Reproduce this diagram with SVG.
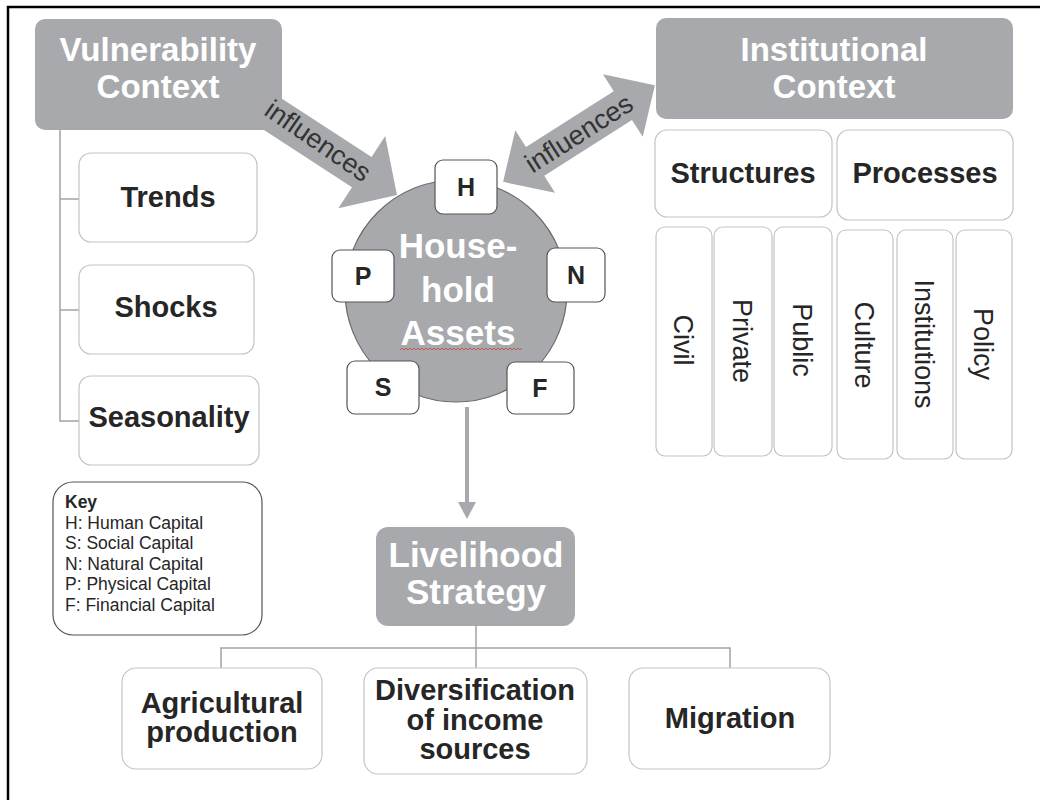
<svg xmlns="http://www.w3.org/2000/svg" width="1040" height="800" viewBox="0 0 1040 800">
<style>
  text { font-family: "Liberation Sans", Arial, sans-serif; }
  .hdr { fill: #a7a9ac; }
  .hdrtxt { fill: #ffffff; font-weight: bold; font-size: 35px; text-anchor: middle; }
  .ctxt { fill: #ffffff; font-weight: bold; font-size: 33px; text-anchor: middle; }
  .box { fill: #ffffff; stroke: #c4c4c4; stroke-width: 1.2; }
  .btxt { fill: #262626; font-weight: bold; font-size: 29px; text-anchor: middle; }
  .vtxt { fill: #262626; font-size: 27px; text-anchor: middle; }
  .lbox { fill: #ffffff; stroke: #555555; stroke-width: 1.2; }
  .ltxt { fill: #262626; font-weight: bold; font-size: 25px; text-anchor: middle; }
  .conn { stroke: #a3a3a3; stroke-width: 1.5; fill: none; }
  .big { fill: #a7a9ac; }
  .inf { fill: #333333; font-size: 27px; text-anchor: middle; dominant-baseline: central; }
  .key { fill: #262626; font-size: 17.5px; }
</style>

<polyline points="8,800 8,7 1040,7" fill="none" stroke="#000" stroke-width="2.5"/>

<g id="connectors">
  <polyline class="conn" points="60,130 60,421 79,421"/>
  <line class="conn" x1="60" y1="199" x2="79" y2="199"/>
  <line class="conn" x1="60" y1="310" x2="79" y2="310"/>
  <polyline class="conn" points="221,668 221,648 730,648 730,668"/>
  <line class="conn" x1="476" y1="626" x2="476" y2="668"/>
  <line x1="467" y1="407" x2="467" y2="504" stroke="#a7a9ac" stroke-width="4"/>
  <polygon points="458,502 476,502 467,519" fill="#a7a9ac"/>
</g>

<g id="vulnerability-context">
  <rect class="hdr" x="35" y="19" width="247" height="111" rx="10"/>
  <text class="ctxt" x="158" y="61">Vulnerability</text>
  <text class="ctxt" x="158" y="98">Context</text>
</g>

<g id="institutional-context">
  <rect class="hdr" x="656" y="18" width="357" height="101" rx="10"/>
  <text class="ctxt" x="834" y="61">Institutional</text>
  <text class="ctxt" x="834" y="98">Context</text>
</g>

<g id="arrow-vulnerability">
  <g transform="translate(397,195) rotate(33)">
    <polygon class="big" points="0,0 -42,-43 -42,-18 -180,-18 -180,18 -42,18 -42,43"/>
  </g>
  <text class="inf" transform="translate(318,141) rotate(34.5)">influences</text>
</g>

<g id="arrow-institutional">
  <g transform="translate(579,133.5) rotate(-32.5)">
    <polygon class="big" points="90,0 52,-37 52,-17 -52,-17 -52,-37 -90,0 -52,37 -52,17 52,17 52,37"/>
    <text class="inf" x="0" y="0">influences</text>
  </g>
</g>

<g id="trends">
  <rect class="box" x="79" y="153" width="178" height="89" rx="12"/>
  <text class="btxt" x="168" y="207">Trends</text>
</g>
<g id="shocks">
  <rect class="box" x="79" y="265" width="175" height="89" rx="12"/>
  <text class="btxt" x="166" y="317">Shocks</text>
</g>
<g id="seasonality">
  <rect class="box" x="79" y="376" width="180" height="89" rx="12"/>
  <text class="btxt" x="169" y="427">Seasonality</text>
</g>

<g id="key">
  <rect class="lbox" x="53" y="482" width="209" height="153" rx="20"/>
  <text class="key" x="65" y="508" font-weight="bold">Key</text>
  <text class="key" x="65" y="529">H: Human Capital</text>
  <text class="key" x="65" y="549">S: Social Capital</text>
  <text class="key" x="65" y="570">N: Natural Capital</text>
  <text class="key" x="65" y="590">P: Physical Capital</text>
  <text class="key" x="65" y="611">F: Financial Capital</text>
</g>

<g id="household-assets">
  <circle cx="456" cy="291" r="111" fill="#a7a9ac" stroke="#6b6b6b" stroke-width="1.2"/>
  <text class="hdrtxt" x="458" y="258">House-</text>
  <text class="hdrtxt" x="458" y="302">hold</text>
  <text class="hdrtxt" x="458" y="345">Assets</text>
  <path d="M400,350 l2,-2 l2,2 l2,-2 l2,2 l2,-2 l2,2 l2,-2 l2,2 l2,-2 l2,2 l2,-2 l2,2 l2,-2 l2,2 l2,-2 l2,2 l2,-2 l2,2 l2,-2 l2,2 l2,-2 l2,2 l2,-2 l2,2 l2,-2 l2,2 l2,-2 l2,2 l2,-2 l2,2 l2,-2 l2,2 l2,-2 l2,2 l2,-2 l2,2 l2,-2 l2,2 l2,-2 l2,2 l2,-2 l2,2 l2,-2 l2,2 l2,-2 l2,2 l2,-2 l2,2 l2,-2 l2,2 l2,-2 l2,2 l2,-2 l2,2 l2,-2 l2,2 l2,-2 l2,2 l2,-2 l2,2 l2,-2" fill="none" stroke="#d04040" stroke-width="0.8"/>
</g>

<g id="cap-H"><rect class="lbox" x="435" y="160" width="62" height="54" rx="8"/><text class="ltxt" x="466" y="196">H</text></g>
<g id="cap-P"><rect class="lbox" x="332" y="250" width="62" height="52" rx="8"/><text class="ltxt" x="363" y="285">P</text></g>
<g id="cap-N"><rect class="lbox" x="547" y="248" width="58" height="54" rx="8"/><text class="ltxt" x="576" y="284">N</text></g>
<g id="cap-S"><rect class="lbox" x="347" y="361" width="72" height="53" rx="8"/><text class="ltxt" x="383" y="396">S</text></g>
<g id="cap-F"><rect class="lbox" x="507" y="362" width="67" height="52" rx="8"/><text class="ltxt" x="540" y="397">F</text></g>

<g id="structures">
  <rect class="box" x="655" y="130" width="177" height="87" rx="12"/>
  <text class="btxt" x="743" y="183">Structures</text>
</g>
<g id="processes">
  <rect class="box" x="837" y="130" width="176" height="90" rx="12"/>
  <text class="btxt" x="925" y="183">Processes</text>
</g>

<g id="civil"><rect class="box" x="656" y="227" width="56" height="229" rx="9"/><text class="vtxt" transform="translate(684,340) rotate(90)" y="10">Civil</text></g>
<g id="private"><rect class="box" x="714" y="227" width="58" height="229" rx="9"/><text class="vtxt" transform="translate(743,341) rotate(90)" y="10">Private</text></g>
<g id="public"><rect class="box" x="774" y="227" width="58" height="229" rx="9"/><text class="vtxt" transform="translate(803,340) rotate(90)" y="10">Public</text></g>
<g id="culture"><rect class="box" x="837" y="230" width="56" height="229" rx="9"/><text class="vtxt" transform="translate(865,345) rotate(90)" y="10">Culture</text></g>
<g id="institutions"><rect class="box" x="897" y="230" width="56" height="229" rx="9"/><text class="vtxt" transform="translate(925,344) rotate(90)" y="10">Institutions</text></g>
<g id="policy"><rect class="box" x="956" y="230" width="56" height="229" rx="9"/><text class="vtxt" transform="translate(984,344) rotate(90)" y="10">Policy</text></g>

<g id="livelihood-strategy">
  <rect class="hdr" x="376" y="527" width="199" height="99" rx="12"/>
  <text class="hdrtxt" x="476" y="567">Livelihood</text>
  <text class="hdrtxt" x="476" y="604">Strategy</text>
</g>

<g id="agricultural-production">
  <rect class="box" x="122" y="668" width="200" height="101" rx="14"/>
  <text class="btxt" x="222" y="713">Agricultural</text>
  <text class="btxt" x="222" y="742">production</text>
</g>
<g id="diversification">
  <rect class="box" x="364" y="668" width="223" height="106" rx="14"/>
  <text class="btxt" x="475" y="700">Diversification</text>
  <text class="btxt" x="475" y="730">of income</text>
  <text class="btxt" x="475" y="759">sources</text>
</g>
<g id="migration">
  <rect class="box" x="629" y="668" width="201" height="101" rx="14"/>
  <text class="btxt" x="730" y="728">Migration</text>
</g>
</svg>
